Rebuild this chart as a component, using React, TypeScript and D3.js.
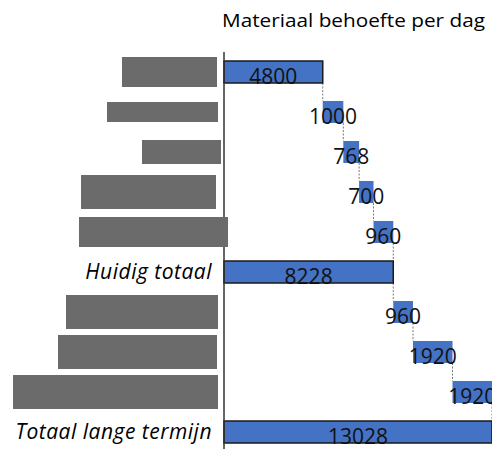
import React from "react";
import * as d3 from "d3";

// waterfall: material needed per day
const labels = ["", "", "", "", "", "Huidig totaal", "", "", "", "Totaal lange termijn"];
const values = [4800, 1000, 768, 700, 960, 8228, 960, 1920, 1920, 13028];
const kinds = ["start", "step", "step", "step", "step", "total", "step", "step", "step", "total"];
const title = "Materiaal behoefte per dag";

// grey boxes that hide category names in the source: [left, right, half height]
const hidden: [number, number, number][] = [
  [122, 217, 15], [107, 218, 10], [142, 221, 12], [81, 216, 17], [79, 228, 15],
  [0, 0, 0], [66, 218, 17], [58, 217, 17], [13, 218, 17], [0, 0, 0],
];

const width = 492;
const height = 449;
const axisX = 224;
const top = 52;

export default function App() {
  const x = d3.scaleLinear().domain([0, 13028]).range([axisX, 492]);
  const y = d3.scaleBand<number>().domain(d3.range(values.length)).range([top, top + 400]).paddingInner(0.45).paddingOuter(0.225);

  // running start/end for each bar
  let run = 0;
  const bars = values.map((v, i) => {
    let x0, x1;
    if (kinds[i] === "step") {
      x0 = run;
      x1 = run + v;
      run = x1;
    } else {
      x0 = 0;
      x1 = v;
      run = v;
    }
    return { i, v, x0, x1, kind: kinds[i] };
  });

  const bw = y.bandwidth();

  return (
    <svg width={width} height={height} style={{ position: "absolute", left: 0, top: 0, background: "#fff" }}>
      <text x={222} y={27} fontFamily="Open Sans" fontSize={18} fill="#000"
        textLength={263} lengthAdjust="spacingAndGlyphs">{title}</text>

      {/* connectors */}
      {bars.slice(0, -1).map((b) => (
        <line key={"c" + b.i} x1={x(b.x1)} x2={x(b.x1)} y1={y(b.i)! + bw} y2={y(b.i + 1)!}
          stroke="#555" strokeWidth={0.8} strokeDasharray="2,1.5" />
      ))}

      {bars.map((b) => (
        <rect key={"b" + b.i} x={x(b.x0)} y={y(b.i)} width={x(b.x1) - x(b.x0)} height={bw}
          fill="#4472C4" stroke={b.kind === "step" ? "none" : "#1a1a1a"} strokeWidth={1.5} />
      ))}

      {bars.map((b) => (
        <text key={"t" + b.i} x={(x(b.x0) + x(b.x1)) / 2} y={y(b.i)! + bw + 1} textAnchor="middle"
          fontFamily="Open Sans" fontSize={21} fill="#111">{b.v}</text>
      ))}

      <line x1={axisX} x2={axisX} y1={top} y2={height} stroke="#333" strokeWidth={1.5} />

      {labels.map((l, i) => l ? (
        <text key={"l" + i} x={212} y={y(i)! + bw / 2 + 7} textAnchor="end" fontFamily="Open Sans"
          fontStyle="italic" fontSize={21} letterSpacing={0.5} fill="#000">{l}</text>
      ) : null)}

      {hidden.map(([a, b, h], i) => h ? (
        <rect key={"h" + i} x={a} width={b - a} y={y(i)! + bw / 2 - h} height={2 * h} fill="#6b6b6b" />
      ) : null)}
    </svg>
  );
}
